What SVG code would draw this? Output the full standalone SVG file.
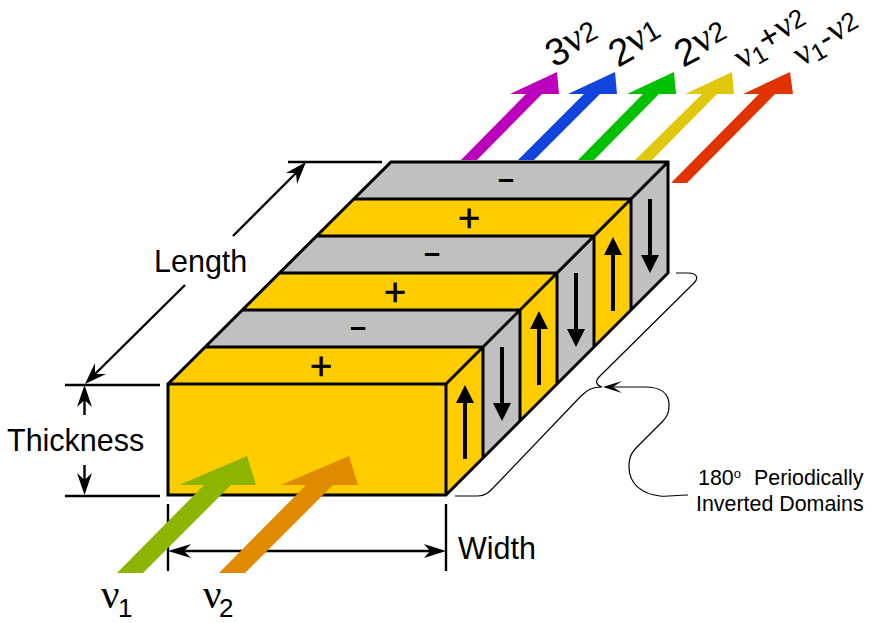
<svg xmlns="http://www.w3.org/2000/svg" width="888" height="623" viewBox="0 0 888 623">
<style>
text{font-family:"Liberation Sans",Arial,sans-serif;fill:#000}
.g{font-family:"Liberation Serif","Times New Roman",serif}
.y{fill:#ffcc00}.s{fill:#c0c0c0}
.e{stroke:#000;stroke-width:3;stroke-linejoin:miter}
.l{stroke:#000;stroke-width:2.4;fill:none}
.d{font-size:30.500px}
.m{font-size:38px;text-anchor:middle;stroke:#000;stroke-width:.6px}
.n{font-size:29px;font-weight:bold;text-anchor:middle}
.c{font-size:21.400px}
</style>
<defs>
<path id="u" d="M-2 18V74H2V18H9L0 0L-9 18Z"/>
</defs>
<g id="outputs">
<polygon points="461,160 526,94 510,94 557,72 559,94 542,94 477,160" fill="#bb00bb"/>
<polygon points="518,160 584,94 568,94 615,72 617,94 600,94 534,160" fill="#1144dd"/>
<polygon points="578,160 643,94 627,94 674,72 676,94 659,94 594,160" fill="#00c000"/>
<polygon points="635,160 702,94 685,94 732,72 734,94 717,94 652,160" fill="#e0c80c"/>
<polygon points="671,183 759,94 743,94 790,72 793,94 775,94 687,183" fill="#e03300"/>
</g>
<g id="crystal">
<polygon class="y" points="168,384 446,384 446,495 168,495"/>
<polygon class="y" points="168,384 205,347 483,347 446,384"/>
<polygon class="s" points="205,347 242,310 520,310 483,347"/>
<polygon class="y" points="242,310 279,273 557,273 520,310"/>
<polygon class="s" points="279,273 316,236 594,236 557,273"/>
<polygon class="y" points="316,236 353,199 631,199 594,236"/>
<polygon class="s" points="353,199 391,162 668,162 631,199"/>
<polygon class="y" points="446,384 483,347 483,458 446,495"/>
<polygon class="s" points="483,347 520,310 520,421 483,458"/>
<polygon class="y" points="520,310 557,273 557,384 520,421"/>
<polygon class="s" points="557,273 594,236 594,347 557,384"/>
<polygon class="y" points="594,236 631,199 631,310 594,347"/>
<polygon class="s" points="631,199 668,162 668,273 631,310"/>
<path class="e" fill="none" d="M168 384L391 162H668V273L446 495H168V384H446V495M483 347V458M520 310V421M557 273V384M594 236V347M631 199V310M205 347H483M242 310H520M279 273H557M316 236H594M353 199H631M446 384L668 162"/>
</g>
<g id="domain-arrows">
<use href="#u" transform="translate(465 385)"/>
<use href="#u" transform="translate(502 421) scale(1 -1)"/>
<use href="#u" transform="translate(539 311)"/>
<use href="#u" transform="translate(576 347) scale(1 -1)"/>
<use href="#u" transform="translate(613 237)"/>
<use href="#u" transform="translate(650 273) scale(1 -1)"/>
</g>
<g id="signs">
<text class="m" x="321" y="379">+</text>
<text class="n" x="358" y="337">–</text>
<text class="m" x="395" y="305">+</text>
<text class="n" x="432" y="263">–</text>
<text class="m" x="469" y="231">+</text>
<text class="n" x="506" y="189">–</text>
</g>
<g id="connectors">
<path class="l" d="M65 385H160M65 496H160M84.500 415V396M84.500 465V484M168 504V571M446 504V571M176 551H438M93 376L185 285M233 236L298 171M288 162H382"/>
<path d="M84.500 385L92 407L84.500 400L77 407ZM84.500 495L92 473L84.500 480L77 473ZM168 551L191 544L184 551L191 558ZM446 551L424 544L430 551L424 558ZM85 384L95 363L95 374L106 374ZM306 162L286 173L296 173L297 184Z"/>
<path fill="none" stroke="#000" stroke-width="1.200" d="M455 496H478C486 496 490 491 494 487L581 396C587 390 592 387 602 387C596 385 595 381 599 377L694 283C699 278 697 273 688 273H676"/>
<path fill="none" stroke="#000" stroke-width="1.200" d="M688 495C675 495 668 497 660 496C642 494 629 484 629 467C629 456 632 452 638 446L662 422C668 416 669 412 669 405C669 393 660 387 645 387H608"/>
<path d="M603 387L622 381L613 387L622 393Z"/>
</g>
<g id="inputs">
<polygon points="117,573 204,485 179,485 247,456 256,485 231,485 143,573" fill="#8bb500"/>
<polygon points="219,573 306,485 281,485 349,456 358,485 333,485 245,573" fill="#e08a00"/>
</g>
<g id="labels">
<text class="d" x="154" y="272">Length</text>
<text class="d" x="7" y="451">Thickness</text>
<text class="d" x="458" y="559">Width</text>
<text x="698" y="485" class="c">180<tspan font-size="13" dy="-7">o</tspan></text>
<text x="754" y="485" class="c">Periodically</text>
<text x="696" y="511" class="c">Inverted Domains</text>
<text x="101" y="608" font-size="41"><tspan class="g">ν</tspan><tspan x="118" dy="9" font-size="26">1</tspan></text>
<text x="203" y="608" font-size="41"><tspan class="g">ν</tspan><tspan x="219" dy="9" font-size="26">2</tspan></text>
<text transform="translate(554 68) rotate(-28)" font-size="38">3<tspan class="g" font-size="40" dy="-4">ν</tspan><tspan font-size="28" dy="-2">2</tspan></text>
<text transform="translate(618 68) rotate(-30)" font-size="38">2<tspan class="g" font-size="40" dy="-4">ν</tspan><tspan font-size="28" dy="-2">1</tspan></text>
<text transform="translate(683 68) rotate(-28)" font-size="38">2<tspan class="g" font-size="40" dy="-4">ν</tspan><tspan font-size="28" dy="-2">2</tspan></text>
<text transform="translate(742 70) rotate(-30)" font-size="32"><tspan class="g" font-size="36">ν</tspan><tspan font-size="24" dy="4">1</tspan><tspan font-size="34" dy="-8">+</tspan><tspan class="g" font-size="36" dy="-2">ν</tspan><tspan font-size="26" dy="-2">2</tspan></text>
<text transform="translate(801 67) rotate(-30)" font-size="32"><tspan class="g" font-size="36">ν</tspan><tspan font-size="24" dy="4">1</tspan><tspan font-size="34" dy="-6">-</tspan><tspan class="g" font-size="36" dy="-2">ν</tspan><tspan font-size="26" dy="-2">2</tspan></text>
</g>
</svg>
